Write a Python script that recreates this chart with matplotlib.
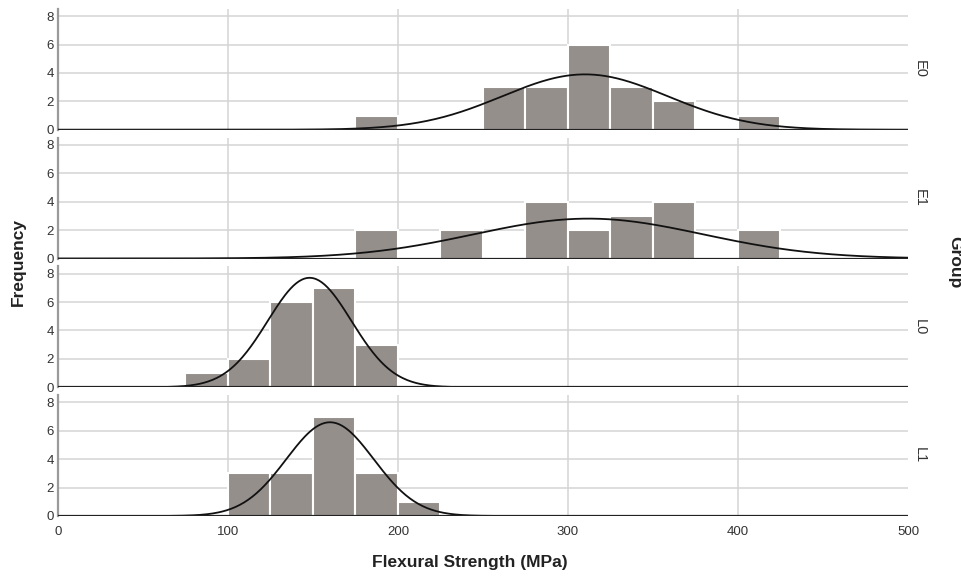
import numpy as np
import matplotlib.pyplot as plt

plt.rcParams['font.family'] = ['Liberation Sans', 'DejaVu Sans']

# histogram bins (lower edges, width 25) and counts per group
bin_width = 25
groups = ['E0', 'E1', 'L0', 'L1']
E0_edges = [175, 250, 275, 300, 325, 350, 400]
E0_counts = [1, 3, 3, 6, 3, 2, 1]
E1_edges = [175, 225, 275, 300, 325, 350, 400]
E1_counts = [2, 2, 4, 2, 3, 4, 2]
L0_edges = [75, 100, 125, 150, 175]
L0_counts = [1, 2, 6, 7, 3]
L1_edges = [100, 125, 150, 175, 200]
L1_counts = [3, 3, 7, 3, 1]

# fitted normal curve (mean, sd)
means = [310, 312, 148, 160]
sds = [48.6, 67.5, 24.6, 25.7]

edges = [E0_edges, E1_edges, L0_edges, L1_edges]
counts = [E0_counts, E1_counts, L0_counts, L1_counts]

fig = plt.figure(figsize=(9.62, 5.77), dpi=100)
gs = fig.add_gridspec(4, 1, left=58/962, right=908/962, top=1-9/577,
                      bottom=1-516/577, hspace=0.066)

bar_col = '#958f8c'
grid_col = '#d4d4d4'
x = np.linspace(0, 500, 600)

for i, g in enumerate(groups):
    ax = fig.add_subplot(gs[i])
    n = sum(counts[i])
    ax.bar(edges[i], counts[i], width=bin_width, align='edge', color=bar_col,
           edgecolor='white', linewidth=1.5, zorder=2)
    y = n * bin_width / (sds[i] * np.sqrt(2 * np.pi)) * np.exp(-0.5 * ((x - means[i]) / sds[i]) ** 2)
    ax.plot(x, y, color='#111111', lw=1.3, zorder=3)
    ax.axhline(0, color='#222222', lw=1.6, zorder=4)

    ax.set_xlim(0, 500)
    ax.set_ylim(0, 8.5)
    ax.set_yticks([0, 2, 4, 6, 8])
    ax.set_xticks([0, 100, 200, 300, 400, 500])
    for yy in [2, 4, 6, 8]:
        ax.axhline(yy, color=grid_col, lw=1.1, zorder=1)
    for xx in [100, 200, 300, 400]:
        ax.axvline(xx, color=grid_col, lw=1.1, zorder=1)

    for s in ['top', 'right', 'bottom']:
        ax.spines[s].set_visible(False)
    ax.spines['left'].set_color('#9a9a9a')
    ax.spines['left'].set_linewidth(1.6)
    ax.tick_params(length=0, labelsize=9.5, labelcolor='#333333', pad=3)
    if i < 3:
        ax.tick_params(labelbottom=False)
    else:
        ax.tick_params(axis='x', pad=7)

    ax.text(1.014, 0.5, g, transform=ax.transAxes, rotation=270,
            ha='center', va='center', fontsize=10.5, color='#333333')

fig.text(18/962, 1-262/577, 'Frequency', rotation=90, ha='center', va='center',
         fontsize=12.5, fontweight='bold', color='#222222')
fig.text(470/962, 1-563/577, 'Flexural Strength (MPa)', ha='center', va='center',
         fontsize=12.5, fontweight='bold', color='#222222')
fig.text(955/962, 1-262/577, 'Group', rotation=270, ha='center', va='center',
         fontsize=12.5, fontweight='bold', color='#222222')

fig.savefig('out.png', dpi=100)
